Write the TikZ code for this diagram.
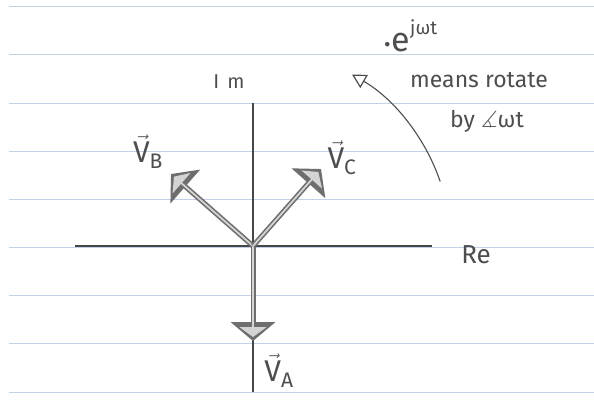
\documentclass[tikz,border=0pt]{standalone}
\usepackage{amsmath,amssymb}
\usepackage{fontspec}
\setmainfont{Fira Sans}
\usetikzlibrary{arrows.meta}
\definecolor{ink}{HTML}{4E4E4E}
\definecolor{ruled}{HTML}{C3D0E6}
\definecolor{vecink}{HTML}{6E6E6E}
\definecolor{vecfill}{HTML}{D4D4D4}
\tikzset{
  axis/.style={draw=ink!90!black, line width=1.4pt},
  vecout/.style={draw=vecink, line width=5pt, -{Triangle[length=19pt, width=44pt, fill=vecink]}},
  vecin/.style={draw=vecfill, line width=1.8pt, shorten >=4pt, -{Triangle[length=10pt, width=27pt, fill=vecfill]}},
  rotarrow/.style={draw=ink, line width=1.1pt, -{Triangle[open, length=14pt, width=15pt, line width=1.2pt]}},
  lab/.style={text=ink, inner sep=0pt, anchor=center},
}
\newcommand{\fs}[1]{\fontsize{#1}{#1}\selectfont}
\begin{document}
\begin{tikzpicture}[x=1pt,y=-1pt]
\useasboundingbox (0,0) rectangle (594,400);
\fill[white] (0,0) rectangle (594,400);
% notebook ruling
\foreach \yy in {6,54,103,151,199,247,295,343,392}
  \draw[ruled, line width=0.9pt] (9,\yy) -- (594,\yy);
% axes
\coordinate (O) at (253,246);
\coordinate (reL) at (75,246);
\coordinate (reR) at (432,246);
\coordinate (imT) at (253,103);
\coordinate (imB) at (253,392);
\draw[axis] (reL) -- (reR);
\draw[axis] (imT) -- (imB);
% phasors
\coordinate (A) at (253,341);
\coordinate (B) at (171,174);
\coordinate (C) at (321,169);
\foreach \t in {A,B,C} {
  \draw[vecout] (O) -- (\t);
  \draw[vecin] (O) -- (\t);
}
% rotation arc
\coordinate (arcS) at ([shift={(-19:198)}]O);
\draw[rotarrow] (arcS) arc[start angle=-19, end angle=-60, radius=198];
% labels
\node[lab] (im) at (229,82) {\fs{20}I\kern8pt m};
\node[lab] (re) at (476,255) {\fs{26}Re};
\node[lab] (vb) at (148,152) {\fs{30}$\vec{\text{V}}_{\text{B}}$};
\node[lab] (vc) at (342,158) {\fs{30}$\vec{\text{V}}_{\text{C}}$};
\node[lab] (va) at (279,371) {\fs{30}$\vec{\text{V}}_{\text{A}}$};
\node[lab, anchor=base west] (ejwt) at (384,51) {\fs{20}•\kern1pt\fs{34}e\raisebox{17pt}{\fs{19}jωt}};
\node[lab] (means) at (479,80) {\fs{23}means rotate};
\node[lab] (by) at (487,121) {\fs{23}by $\measuredangle$ωt};
\end{tikzpicture}
\end{document}
